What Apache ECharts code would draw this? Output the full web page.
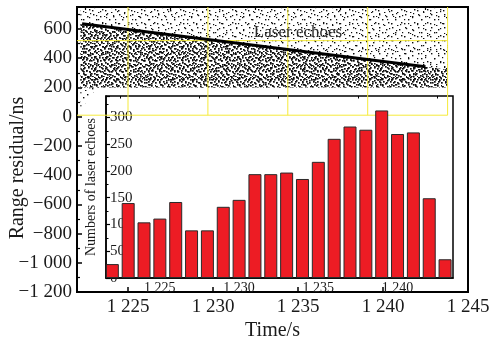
<!DOCTYPE html>
<html>
<head>
<meta charset="utf-8">
<title>Laser echoes</title>
<script src="https://cdn.jsdelivr.net/npm/echarts@6/dist/echarts.min.js"></script>
<style>
html, body { margin: 0; padding: 0; background: #fff; }
#main { width: 493px; height: 346px; }
</style>
</head>
<body>
<div id="main"></div>
<script>
// main plot data
var timeTicks = [1225, 1230, 1235, 1240, 1245];
var timeMinor = [1222.5, 1227.5, 1232.5, 1237.5, 1242.5];
var echoTime = [1222.3, 1242.5];
var echoRange = [636, 341];
var noiseTime = [1222.2, 1243.8];
var noiseFloor = [200, 200];
var noiseMid = [640, 322];
var noiseCeil = [750, 750];
var tailTime = [1222.2, 1222.2, 1222.7, 1223.2];
var tailRange = [200, 40, 130, 200];
var yellowTime = [1225, 1229.7, 1234.4, 1239.1, 1243.8];
var yellowRange = [10, 520];

// inset histogram data
var binTime = [1222, 1223, 1224, 1225, 1226, 1227, 1228, 1229, 1230, 1231, 1232,
               1233, 1234, 1235, 1236, 1237, 1238, 1239, 1240, 1241, 1242, 1243];
var binCount = [26, 140, 104, 111, 142, 89, 89, 133, 146, 194, 194,
                197, 185, 217, 260, 283, 277, 313, 269, 272, 149, 35];
var insetTicks = [1225, 1230, 1235, 1240];
var insetMinor = [1222.5, 1227.5, 1232.5, 1237.5, 1242.5];

var serif = "'Liberation Serif', 'Times New Roman', serif";
var ink = '#1a1a1a';

function fmt(v) {
    var s = String(Math.abs(v));
    if (s.length > 3) s = s.slice(0, s.length - 3) + ' ' + s.slice(-3);
    return (v < 0 ? '\u2212' : '') + s;
}

// stipple textures for the echo cloud (tiles of different sizes overlaid so it looks less regular)
function stipple(tile, dots, size) {
    var c = document.createElement('canvas');
    c.width = tile; c.height = tile;
    var g = c.getContext('2d');
    g.fillStyle = '#0d0d0d';
    for (var i = 0; i < dots.length; i++) g.fillRect(dots[i][0], dots[i][1], size, size);
    return { image: c, repeat: 'repeat' };
}
var denseA = stipple(11, [[0,0],[3,2],[7,1],[9,4],[1,5],[5,4],[8,8],[2,9],[6,7],[10,10],[4,10],[6,2]], 1.7);
var denseB = stipple(13, [[1,1],[5,0],[10,2],[3,4],[8,5],[12,7],[0,8],[6,9],[10,11],[3,12],[7,12],[12,0],[5,6]], 1.6);
var denseC = stipple(19, [[2,3],[11,1],[16,8],[7,14],[14,17],[0,12]], 1.4);
var lightA = stipple(13, [[2,1],[9,3],[5,6],[11,9],[1,10],[7,12]], 1.4);
var lightB = stipple(17, [[4,0],[13,2],[0,6],[9,7],[15,11],[5,13],[11,15],[2,16]], 1.2);

var clouds = [
    { pts: [[noiseTime[0], noiseFloor[0]], [noiseTime[1], noiseFloor[1]],
            [noiseTime[1], noiseMid[1]], [noiseTime[0], noiseMid[0]]], fills: [denseA, denseB, denseC] },
    { pts: [[noiseTime[0], noiseMid[0]], [noiseTime[1], noiseMid[1]],
            [noiseTime[1], noiseCeil[1]], [noiseTime[0], noiseCeil[0]]], fills: [lightA, lightB] },
    { pts: tailTime.map(function (t, i) { return [t, tailRange[i]]; }), fills: [lightA] }
];

var yellowSegs = [];
yellowTime.forEach(function (t) { yellowSegs.push([[t, yellowRange[0]], [t, noiseCeil[0]]]); });
yellowRange.forEach(function (r) { yellowSegs.push([[timeMinor[0] - 0.5, r], [yellowTime[yellowTime.length - 1], r]]); });

var chart = echarts.init(document.getElementById('main'));
var option = {
    animation: false,
    textStyle: { fontFamily: serif, color: ink },
    grid: [
        { left: 77, right: 25, top: 7, bottom: 48, show: true, borderColor: '#000', borderWidth: 2 },
        { left: 106, right: 40, top: 96, bottom: 68, show: true, borderColor: '#000', borderWidth: 1.5 }
    ],
    xAxis: [
        {
            gridIndex: 0, type: 'value', min: 1222, max: 1245,
            name: 'Time/s', nameLocation: 'middle', nameGap: 24,
            nameTextStyle: { fontSize: 20, fontFamily: serif, color: ink },
            axisLine: { onZero: false, lineStyle: { color: '#000', width: 2 } },
            axisTick: { inside: true, length: 5, customValues: timeTicks, lineStyle: { color: '#000', width: 1.5 } },
            axisLabel: { customValues: timeTicks, formatter: fmt, fontSize: 19, margin: 5, color: ink, fontFamily: serif },
            splitLine: { show: false }
        },
        {
            gridIndex: 0, type: 'value', min: 1222, max: 1245,
            axisLine: { show: false, onZero: false },
            axisTick: { inside: true, length: 3, customValues: timeMinor, lineStyle: { color: '#000', width: 1.2 } },
            axisLabel: { show: false }, splitLine: { show: false }
        },
        {
            gridIndex: 1, type: 'value', min: 1221.6, max: 1243.5,
            axisLine: { onZero: false, lineStyle: { color: '#000', width: 1.5 } },
            axisTick: { inside: true, length: 4, customValues: insetTicks, lineStyle: { color: '#000', width: 1.2 } },
            axisLabel: { customValues: insetTicks, formatter: fmt, fontSize: 14, margin: 3, color: ink, fontFamily: serif },
            splitLine: { show: false }
        },
        {
            gridIndex: 1, type: 'value', min: 1221.6, max: 1243.5,
            axisLine: { show: false, onZero: false },
            axisTick: { inside: true, length: 2.5, customValues: insetMinor, lineStyle: { color: '#000' } },
            axisLabel: { show: false }, splitLine: { show: false }
        }
    ],
    yAxis: [
        {
            gridIndex: 0, type: 'value', min: -1200, max: 750, interval: 200,
            axisLine: { show: true, onZero: false, lineStyle: { color: '#000', width: 2 } },
            axisTick: { show: true, inside: true, length: 5, lineStyle: { color: '#000', width: 1.5 } },
            minorTick: { show: true, splitNumber: 2, length: 3, lineStyle: { color: '#000', width: 1.2 } },
            axisLabel: { formatter: fmt, fontSize: 19, margin: 5, color: ink, fontFamily: serif, showMaxLabel: false },
            splitLine: { show: false }
        },
        {
            gridIndex: 1, type: 'value', min: 0, max: 340, interval: 50,
            name: 'Numbers of laser echoes', nameLocation: 'middle', nameGap: 4,
            nameTextStyle: { fontSize: 14, fontFamily: serif, color: ink },
            axisLine: { show: true, onZero: false, lineStyle: { color: '#000', width: 1.5 } },
            axisTick: { show: true, inside: true, length: 4, lineStyle: { color: '#000', width: 1.2 } },
            minorTick: { show: true, splitNumber: 2, length: 2.5, lineStyle: { color: '#000' } },
            axisLabel: { inside: true, fontSize: 15, margin: 4, color: ink, fontFamily: serif, showMaxLabel: false },
            splitLine: { show: false }
        }
    ],
    graphic: [
        {
            type: 'text', x: 18, y: 168, rotation: Math.PI / 2,
            style: { text: 'Range residual/ns', font: '20px ' + serif, fill: ink, align: 'center', verticalAlign: 'middle' }
        }
    ],
    series: [
        {
            type: 'custom', xAxisIndex: 0, yAxisIndex: 0, clip: true, z: 1,
            data: clouds.map(function (c) { return c.pts[0]; }),
            renderItem: function (params, api) {
                var c = clouds[params.dataIndex];
                var pts = c.pts.map(function (p) { return api.coord(p); });
                return {
                    type: 'group',
                    children: c.fills.map(function (f) {
                        return { type: 'polygon', shape: { points: pts }, style: { fill: f } };
                    })
                };
            }
        },
        {
            type: 'custom', xAxisIndex: 0, yAxisIndex: 0, clip: true, z: 2,
            data: yellowSegs.map(function (s) { return s[0]; }),
            renderItem: function (params, api) {
                var s = yellowSegs[params.dataIndex];
                var a = api.coord(s[0]), b = api.coord(s[1]);
                return { type: 'line', shape: { x1: a[0], y1: a[1], x2: b[0], y2: b[1] },
                         style: { stroke: '#f5ea3a', lineWidth: 1 } };
            }
        },
        {
            type: 'line', xAxisIndex: 0, yAxisIndex: 0, z: 3,
            data: echoTime.map(function (t, i) { return [t, echoRange[i]]; }),
            symbol: 'none', lineStyle: { color: '#000', width: 3 }
        },
        {
            type: 'bar', xAxisIndex: 2, yAxisIndex: 1, z: 4,
            data: binTime.map(function (t, i) { return [t, binCount[i]]; }),
            barWidth: 13,
            itemStyle: { color: '#ed1c24', borderColor: '#2a2a2a', borderWidth: 1 }
        },
        {
            type: 'line', xAxisIndex: 0, yAxisIndex: 0, data: [], silent: true, z: 5,
            markPoint: {
                symbol: 'rect', symbolSize: 0,
                data: [{ coord: [1235, 575], value: 'Laser echoes' }],
                label: { show: true, formatter: 'Laser echoes', fontSize: 17, fontFamily: serif, color: '#2a2a2a' }
            }
        }
    ]
};
chart.setOption(option);
</script>
</body>
</html>
